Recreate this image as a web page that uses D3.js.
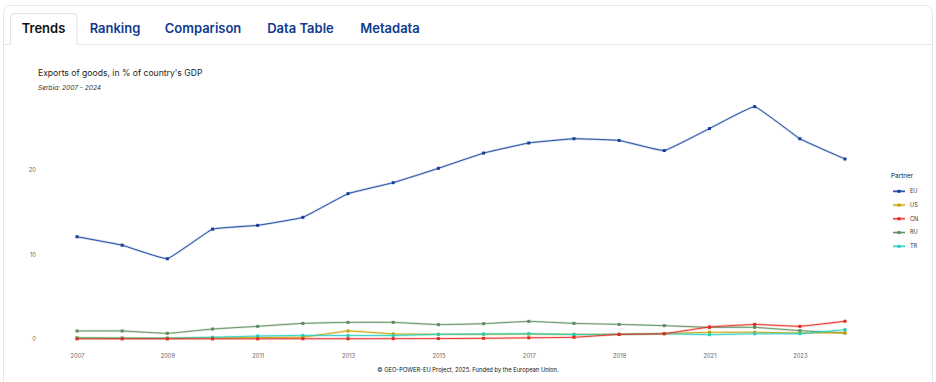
<!DOCTYPE html>
<html>
<head>
<meta charset="utf-8">
<script src="https://cdn.jsdelivr.net/npm/d3@7"></script>
<style>
  html, body { margin: 0; padding: 0; background: #ffffff; }
  svg { display: block; }
</style>
</head>
<body>
<svg id="chart" width="936" height="382"></svg>
<script>
const years = [2007,2008,2009,2010,2011,2012,2013,2014,2015,2016,2017,2018,2019,2020,2021,2022,2023,2024];
const xTickYears = [2007,2009,2011,2013,2015,2017,2019,2021,2023];
const yTicks = [0,10,20];
const partners = ["EU","US","CN","RU","TR"];
const euValues = [12.1,11.1,9.5,13.0,13.45,14.4,17.2,18.5,20.2,22.0,23.2,23.7,23.5,22.3,24.9,27.5,23.7,21.3];
const usValues = [0.15,0.12,0.1,0.14,0.18,0.22,0.95,0.6,0.56,0.56,0.58,0.56,0.55,0.63,0.79,0.8,0.71,0.73];
const cnValues = [0.02,0.02,0.02,0.02,0.02,0.03,0.03,0.04,0.05,0.08,0.14,0.2,0.55,0.63,1.42,1.73,1.5,2.1];
const ruValues = [0.95,0.95,0.67,1.18,1.5,1.85,1.97,1.97,1.7,1.81,2.09,1.85,1.73,1.58,1.38,1.38,0.99,0.71];
const trValues = [0.12,0.1,0.1,0.2,0.35,0.43,0.41,0.41,0.55,0.59,0.63,0.52,0.55,0.63,0.51,0.62,0.63,1.1];
const colors = ["#123f9c","#c9a200","#e5281e","#5b8c5b","#23cfc4"];
const tabs = ["Trends","Ranking","Comparison","Data Table","Metadata"];

const seriesValues = [euValues, usValues, cnValues, ruValues, trValues];
const svg = d3.select("#chart");
const FONT = "Inter, 'Open Sans', sans-serif";

// card
svg.append("rect").attr("x", 3.5).attr("y", 5.5).attr("width", 929).attr("height", 390)
  .attr("rx", 7).attr("fill", "#fff").attr("stroke", "#e6e6e6");
svg.append("line").attr("x1", 4).attr("x2", 932).attr("y1", 44.5).attr("y2", 44.5).attr("stroke", "#e6e6e6");

// tabs
const tabX = [43.5, 115, 203, 300.5, 390];
svg.append("path").attr("d", "M10.5,45 V17 Q10.5,13.5 14,13.5 H73.5 Q77,13.5 77,17 V45")
  .attr("fill", "#fff").attr("stroke", "#e3e3e3");
svg.append("rect").attr("x", 11).attr("y", 43).attr("width", 65.5).attr("height", 3).attr("fill", "#fff");
svg.selectAll("text.tab").data(tabs).join("text")
  .attr("class", "tab")
  .attr("x", (d,i) => tabX[i]).attr("y", 33)
  .attr("text-anchor", "middle")
  .attr("font-family", FONT)
  .attr("font-weight", 600)
  .attr("font-size", 13)
  .attr("fill", (d,i) => i === 0 ? "#111" : "#0f3a8f")
  .text(d => d);

// titles
svg.append("text").attr("x", 38).attr("y", 76).attr("font-family", FONT)
  .attr("font-size", 8.6).attr("fill", "#222").text("Exports of goods, in % of country's GDP");
svg.append("text").attr("x", 38).attr("y", 90).attr("font-family", FONT)
  .attr("font-style", "italic").attr("font-size", 6.6).attr("fill", "#333").text("Serbia: 2007 - 2024");

// scales
const x = d3.scaleLinear().domain([2007, 2024]).range([77, 845]);
const y = d3.scaleLinear().domain([0, 20]).range([339, 170]);

// axes
const xAxis = d3.axisBottom(x).tickValues(xTickYears).tickFormat(d3.format("d")).tickSize(0).tickPadding(0);
const gx = svg.append("g").attr("transform", "translate(0,358)").call(xAxis);
gx.select(".domain").remove();
gx.selectAll("text").attr("font-family", FONT).attr("font-size", 5.8).attr("fill", "#666").attr("dy", 0);

const yAxis = d3.axisLeft(y).tickValues(yTicks).tickSize(0).tickPadding(0);
const gy = svg.append("g").attr("transform", "translate(36,0)").call(yAxis);
gy.select(".domain").remove();
gy.selectAll("text").attr("font-family", FONT).attr("font-size", 5.8).attr("fill", "#666").attr("dy", "0.32em");

// lines
const line = d3.line().x((d,i) => x(years[i])).y(d => y(d)).curve(d3.curveCardinal.tension(0.75));
const order = [3,1,4,2,0];
order.forEach(si => {
  const vals = seriesValues[si];
  const g = svg.append("g");
  g.append("path").attr("d", line(vals)).attr("fill", "none")
    .attr("stroke", colors[si]).attr("stroke-opacity", 0.22).attr("stroke-width", 2.4);
  g.append("path").attr("d", line(vals)).attr("fill", "none")
    .attr("stroke", colors[si]).attr("stroke-width", 0.9);
  g.selectAll("rect").data(vals).join("rect")
    .attr("x", (d,i) => x(years[i]) - 1.5).attr("y", d => y(d) - 1.5)
    .attr("width", 3).attr("height", 3).attr("fill", colors[si]);
});

// legend
svg.append("text").attr("x", 891).attr("y", 178).attr("font-family", FONT)
  .attr("font-size", 6.4).attr("fill", "#222").text("Partner");
const lg = svg.selectAll("g.leg").data(partners).join("g").attr("class", "leg")
  .attr("transform", (d,i) => `translate(0,${191.3 + i*13.75})`);
lg.append("line").attr("x1", 893).attr("x2", 905).attr("stroke", (d,i) => colors[i]).attr("stroke-opacity", 0.35).attr("stroke-width", 2.6);
lg.append("line").attr("x1", 893).attr("x2", 905).attr("stroke", (d,i) => colors[i]).attr("stroke-width", 1);
lg.append("rect").attr("x", 897.5).attr("y", -1.5).attr("width", 3).attr("height", 3).attr("fill", (d,i) => colors[i]);
lg.append("text").attr("x", 910).attr("y", 0).attr("dy", "0.34em").attr("font-family", FONT)
  .attr("font-size", 5.6).attr("fill", "#333").text(d => d);

// footer
svg.append("text").attr("x", 468).attr("y", 372).attr("text-anchor", "middle")
  .attr("font-family", FONT).attr("font-size", 5.8).attr("fill", "#111")
  .text("© GEO-POWER-EU Project, 2025. Funded by the European Union.");
</script>
</body>
</html>
